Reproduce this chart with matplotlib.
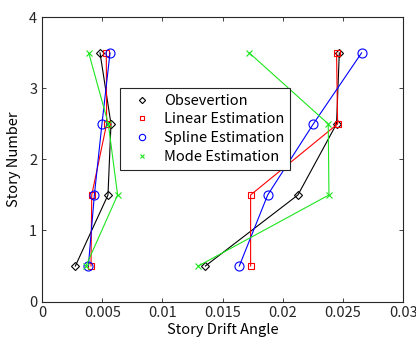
import matplotlib
matplotlib.use("Agg")
import matplotlib.pyplot as plt
from matplotlib.lines import Line2D

plt.rcParams['font.family'] = ['Noto Sans CJK JP', 'DejaVu Sans']

story = [0.5, 1.5, 2.5, 3.5]

# left group (small drift) and right group (large drift)
obs_left = [0.00277, 0.00548, 0.00573, 0.00482]
obs_right = [0.01357, 0.02126, 0.02447, 0.02470]
lin_left = [0.00407, 0.00413, 0.00537, 0.00534]
lin_right = [0.01733, 0.01733, 0.02456, 0.02447]
spl_left = [0.00385, 0.00435, 0.00498, 0.00565]
spl_right = [0.01639, 0.01875, 0.02254, 0.02655]
mode_left = [0.00365, 0.00628, 0.00551, 0.00388]
mode_right = [0.01298, 0.02384, 0.02378, 0.01722]

labels = ['Obsevertion', 'Linear Estimation', 'Spline Estimation', 'Mode Estimation']

fig = plt.figure(figsize=(4.16, 3.47), dpi=100)
ax = fig.add_axes([0.101, 0.131, 0.868, 0.819])

styles = [
    (obs_left, obs_right, 'k', 'D', 4.5, 'none'),
    (lin_left, lin_right, 'r', 's', 5, 'none'),
    (spl_left, spl_right, 'b', 'o', 6.5, 'none'),
    (mode_left, mode_right, '#1ee61e', 'x', 5, None),
]
handles = []
for (l, r, c, m, ms, mfc) in styles:
    kw = dict(color=c, marker=m, markersize=ms, lw=0.8, mew=0.8)
    if mfc:
        kw['markerfacecolor'] = mfc
    ax.plot(l, story, **kw)
    ax.plot(r, story, **kw)
    hk = {k: v for k, v in kw.items() if k != 'lw'}
    hk['markersize'] = ms * 0.7
    handles.append(Line2D([], [], linestyle='none', **hk))

ax.set_xlim(0, 0.03)
ax.set_ylim(0, 4)
ax.set_xticks([0, 0.005, 0.01, 0.015, 0.02, 0.025, 0.03])
ax.set_xticklabels(['0', '0.005', '0.01', '0.015', '0.02', '0.025', '0.03'])
ax.set_yticks([0, 1, 2, 3, 4])
ax.tick_params(direction='in', top=True, right=True, labelsize=10.5, length=3, width=0.6, colors='#262626')
for sp in ax.spines.values():
    sp.set_linewidth(0.8)
    sp.set_color('#262626')
ax.set_xlabel('Story Drift Angle', fontsize=10.5, labelpad=2)
ax.set_ylabel('Story Number', fontsize=10.5, labelpad=6)

leg = ax.legend(handles, labels, loc='upper left', bbox_to_anchor=(0.216, 0.752),
                borderaxespad=0, fontsize=10.5, fancybox=False, framealpha=1,
                edgecolor='#262626', handlelength=2.2, handletextpad=0.4,
                borderpad=0.4, labelspacing=0.33)
leg.get_frame().set_linewidth(0.8)

fig.savefig('out.png', dpi=100)
